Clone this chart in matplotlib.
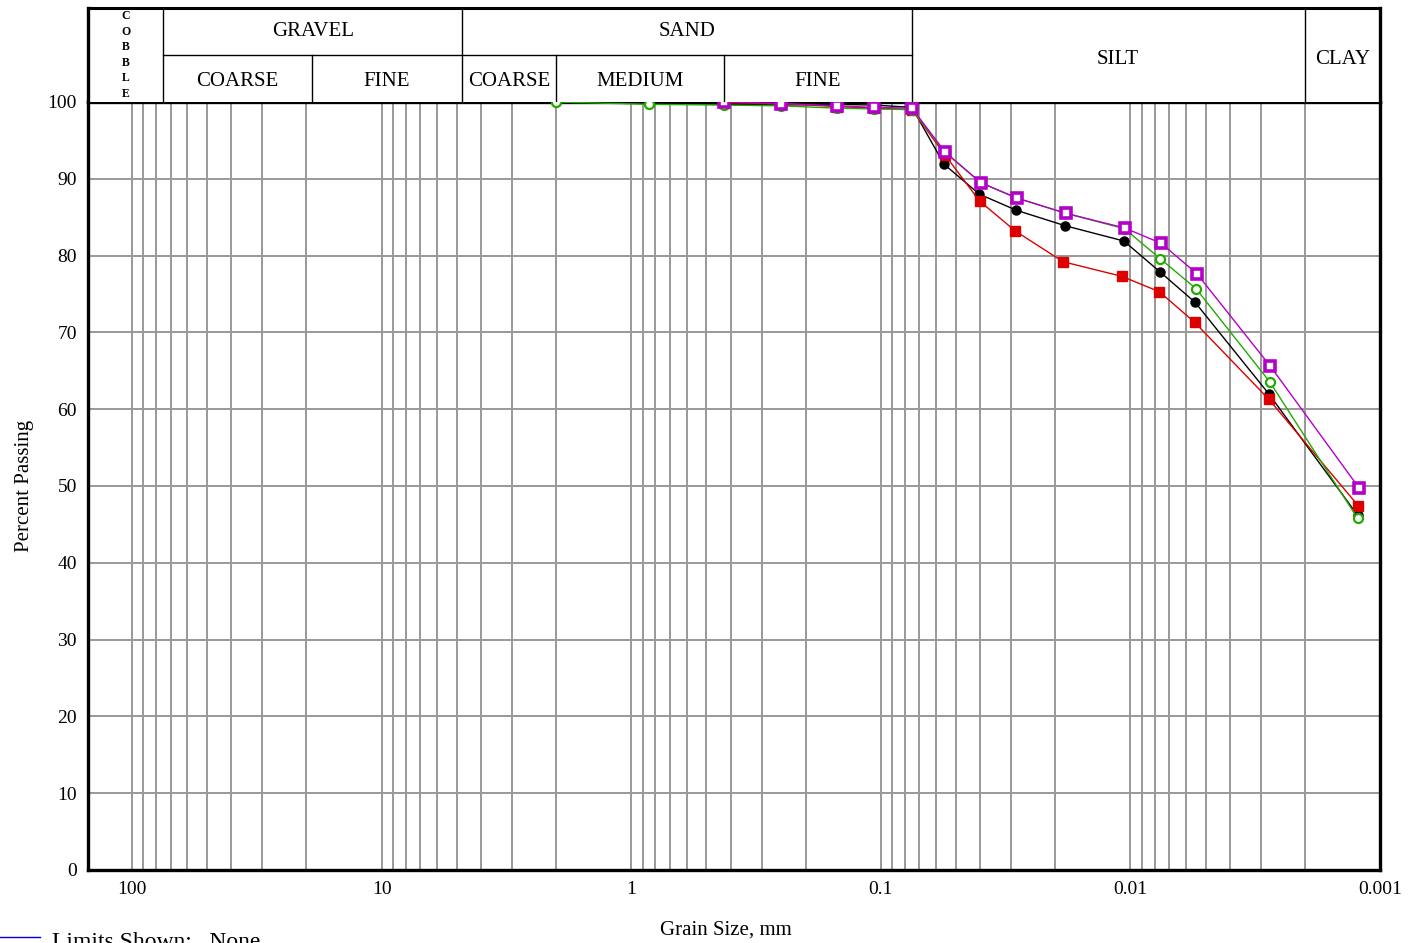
import numpy as np
import matplotlib
matplotlib.use("Agg")
import matplotlib.pyplot as plt
from matplotlib.ticker import LogLocator, FixedLocator, FixedFormatter, NullFormatter

plt.rcParams['font.family'] = ['Liberation Serif', 'DejaVu Serif']

# sieve part (mm, % passing)
sieve_black = [2.0, 0.85, 0.425, 0.25, 0.15, 0.106, 0.075]
pct_sieve_black = [100, 99.8, 99.7, 99.6, 99.7, 99.6, 99.3]
sieve_red = [0.425, 0.25, 0.15, 0.106, 0.075]
pct_sieve_red = [99.9, 99.8, 99.4, 99.2, 99.0]
sieve_green = [2.0, 0.85, 0.425, 0.25, 0.15, 0.106, 0.075]
pct_sieve_green = [100, 99.7, 99.6, 99.5, 99.2, 99.1, 99.0]
sieve_mag = [0.425, 0.25, 0.15, 0.106, 0.075]
pct_sieve_mag = [100, 99.8, 99.5, 99.3, 99.2]

# hydrometer part
hyd_black = [0.0558, 0.0403, 0.0286, 0.0183, 0.01062, 0.00762, 0.00550, 0.00279, 0.00123]
pct_hyd_black = [91.9, 88.0, 85.9, 83.9, 81.9, 77.9, 73.9, 62.0, 46.2]
hyd_red = [0.0553, 0.0402, 0.0289, 0.0186, 0.01082, 0.00766, 0.00552, 0.00279, 0.00122]
pct_hyd_red = [93.1, 87.1, 83.2, 79.2, 77.3, 75.3, 71.3, 61.3, 47.4]
hyd_green = [0.0555, 0.0398, 0.0286, 0.0181, 0.01055, 0.00760, 0.00546, 0.00277, 0.00123]
pct_hyd_green = [93.5, 89.5, 87.5, 85.5, 83.5, 79.6, 75.7, 63.6, 45.8]
hyd_mag = [0.0553, 0.0398, 0.0285, 0.0181, 0.01055, 0.00752, 0.00540, 0.00275, 0.00121]
pct_hyd_mag = [93.5, 89.5, 87.5, 85.5, 83.6, 81.6, 77.6, 65.6, 49.7]

# soil classification boundaries (mm)
cobble_gravel = 75
gravel_split = 19
gravel_sand = 4.75
sand_coarse_med = 2.0
sand_med_fine = 0.425
sand_silt = 0.075
silt_clay = 0.002

W, H = 1413, 943
fig = plt.figure(figsize=(W / 100, H / 100), dpi=100)
L, R, B, T = 88 / W, 1380 / W, 1 - 870 / H, 1 - 102 / H
ax = fig.add_axes([L, B, R - L, T - B])
hx = fig.add_axes([L, T, R - L, (102 - 8) / H])

for a in (ax, hx):
    a.set_xscale('log')
    a.set_xlim(150, 0.001)

ax.set_ylim(0, 100)
ax.yaxis.set_major_locator(FixedLocator(np.arange(0, 101, 10)))
ax.xaxis.set_major_locator(FixedLocator([100, 10, 1, 0.1, 0.01, 0.001]))
ax.xaxis.set_major_formatter(FixedFormatter(['100', '10', '1', '0.1', '0.01', '0.001']))
ax.xaxis.set_minor_locator(LogLocator(base=10, subs=np.arange(2, 10), numticks=20))
ax.xaxis.set_minor_formatter(NullFormatter())
ax.grid(True, which='both', color='#999999', lw=1.4)
ax.set_axisbelow(True)
ax.tick_params(which='both', length=0, labelsize=14, pad=8)
for s in ax.spines.values():
    s.set_linewidth(2.4)

def series(xs, ys, xh, yh, **kw):
    ax.plot(list(xs) + list(xh), list(ys) + list(yh), lw=1, clip_on=False, zorder=4, **kw)

series(sieve_black, pct_sieve_black, hyd_black, pct_hyd_black,
       color='black', marker='o', ms=6.5)
series(sieve_red, pct_sieve_red, hyd_red, pct_hyd_red,
       color='#dd0000', marker='s', ms=7)
series(sieve_green, pct_sieve_green, hyd_green, pct_hyd_green,
       color='#22aa00', marker='o', ms=6.5, mfc='white', mew=1.6)
series(sieve_mag, pct_sieve_mag, hyd_mag, pct_hyd_mag,
       color='#b400c8', marker='s', ms=7.5, mfc='white', mew=2.6)

ax.set_ylabel('Percent Passing', fontsize=15, labelpad=10)
ax.set_xlabel('Grain Size, mm', fontsize=15)
ax.xaxis.set_label_coords((726 - 88) / 1292, -(930 - 870) / 768, transform=ax.transAxes)
ax.xaxis.label.set_va('center')

# header
hx.set_ylim(0, 2)
hx.set_xticks([])
hx.set_yticks([])
hx.xaxis.set_minor_locator(FixedLocator([]))
hx.spines['bottom'].set_visible(False)
hx.spines['top'].set_linewidth(2.2)
hx.spines['right'].set_linewidth(2.4)
hx.spines['left'].set_linewidth(2.4)
for b in (cobble_gravel, gravel_sand, sand_silt, silt_clay):
    hx.plot([b, b], [0, 2], color='black', lw=1)
for b in (gravel_split, sand_coarse_med, sand_med_fine):
    hx.plot([b, b], [0, 1], color='black', lw=1)
hx.plot([cobble_gravel, sand_silt], [1, 1], color='black', lw=1)

def mid(a, b):
    return np.sqrt(a * b)

fs = 15
top_y, low_y, full_y = 1.5, 0.44, 0.9
hx.text(mid(cobble_gravel, gravel_sand), top_y, 'GRAVEL', ha='center', va='center', fontsize=fs)
hx.text(mid(gravel_sand, sand_silt), top_y, 'SAND', ha='center', va='center', fontsize=fs)
hx.text(mid(cobble_gravel, gravel_split), low_y, 'COARSE', ha='center', va='center', fontsize=fs)
hx.text(mid(gravel_split, gravel_sand), low_y, 'FINE', ha='center', va='center', fontsize=fs)
hx.text(mid(gravel_sand, sand_coarse_med), low_y, 'COARSE', ha='center', va='center', fontsize=fs)
hx.text(mid(sand_coarse_med, sand_med_fine), low_y, 'MEDIUM', ha='center', va='center', fontsize=fs)
hx.text(mid(sand_med_fine, sand_silt), low_y, 'FINE', ha='center', va='center', fontsize=fs)
hx.text(mid(sand_silt, silt_clay) * 0.92, full_y, 'SILT', ha='center', va='center', fontsize=fs)
hx.text(mid(silt_clay, 0.001), full_y, 'CLAY', ha='center', va='center', fontsize=fs)
hx.text(mid(150, cobble_gravel), 1.0, 'C\nO\nB\nB\nL\nE', ha='center', va='center',
        fontsize=8.5, fontweight='bold', linespacing=1.4)

# limits line at the bottom
fig.add_artist(plt.Line2D([0, 40 / W], [1 - 937 / H, 1 - 937 / H], color='#0000dd', lw=1))
fig.text(52 / W, 1 - 932 / H, 'Limits Shown:   None', fontsize=17, va='top', ha='left')

fig.savefig('out.png', dpi=100)
